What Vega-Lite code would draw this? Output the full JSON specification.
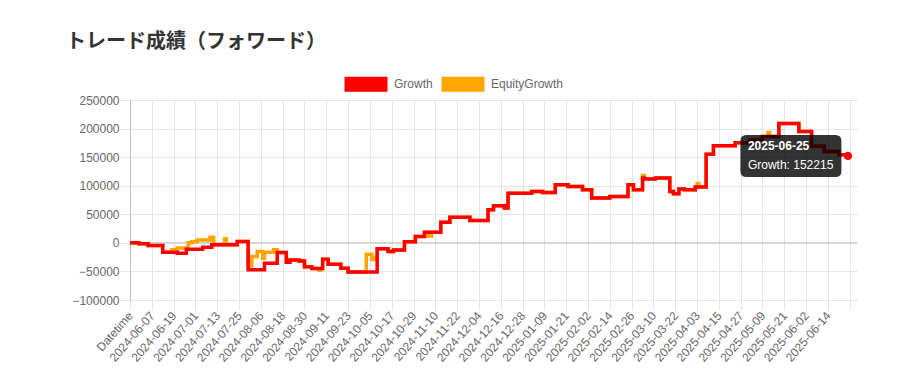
{
  "$schema": "https://vega.github.io/schema/vega-lite/v6.json",
  "width": 727,
  "height": 200,
  "autosize": "none",
  "padding": {"left": 130, "top": 100, "right": 43, "bottom": 76},
  "background": "white",
  "config": {
    "view": {"stroke": null},
    "font": "Liberation Sans",
    "axis": {
      "labelFont": "Liberation Sans",
      "labelFontSize": 12,
      "labelColor": "#666666",
      "gridColor": "#e6e6e6",
      "tickColor": "#e6e6e6",
      "tickSize": 10,
      "domainColor": "#e6e6e6"
    }
  },
  "title": {
    "text": "トレード成績（フォワード）",
    "anchor": "start",
    "frame": "group",
    "dx": -64,
    "offset": 6,
    "baseline": "alphabetic",
    "font": "Noto Sans CJK JP",
    "fontSize": 20,
    "fontWeight": "bold",
    "color": "#333333"
  },
  "datasets": {
    "series": [
      {"Datetime": "2024-05-26", "Growth": 0, "EquityGrowth": 0},
      {"Datetime": "2024-05-31", "Growth": -1500, "EquityGrowth": -1500},
      {"Datetime": "2024-06-05", "Growth": -4700, "EquityGrowth": -4700},
      {"Datetime": "2024-06-13", "Growth": -16300, "EquityGrowth": -16300},
      {"Datetime": "2024-06-18", "Growth": -16300, "EquityGrowth": -12000},
      {"Datetime": "2024-06-21", "Growth": -18000, "EquityGrowth": -9000},
      {"Datetime": "2024-06-26", "Growth": -11000, "EquityGrowth": -9000},
      {"Datetime": "2024-06-27", "Growth": -11000, "EquityGrowth": 0},
      {"Datetime": "2024-06-29", "Growth": -11000, "EquityGrowth": 2000},
      {"Datetime": "2024-07-02", "Growth": -11000, "EquityGrowth": 5000},
      {"Datetime": "2024-07-05", "Growth": -7500, "EquityGrowth": 5000},
      {"Datetime": "2024-07-09", "Growth": -7500, "EquityGrowth": 10000},
      {"Datetime": "2024-07-10", "Growth": -3500, "EquityGrowth": 10000},
      {"Datetime": "2024-07-11", "Growth": -3500, "EquityGrowth": -3500},
      {"Datetime": "2024-07-17", "Growth": -3500, "EquityGrowth": 7000},
      {"Datetime": "2024-07-18", "Growth": -3500, "EquityGrowth": -3500},
      {"Datetime": "2024-07-24", "Growth": 2300, "EquityGrowth": 2300},
      {"Datetime": "2024-07-30", "Growth": -47000, "EquityGrowth": -40000},
      {"Datetime": "2024-08-01", "Growth": -47000, "EquityGrowth": -24000},
      {"Datetime": "2024-08-04", "Growth": -47000, "EquityGrowth": -15000},
      {"Datetime": "2024-08-07", "Growth": -47000, "EquityGrowth": -27000},
      {"Datetime": "2024-08-08", "Growth": -35600, "EquityGrowth": -16300},
      {"Datetime": "2024-08-13", "Growth": -35600, "EquityGrowth": -12000},
      {"Datetime": "2024-08-15", "Growth": -17000, "EquityGrowth": -17000},
      {"Datetime": "2024-08-20", "Growth": -33800, "EquityGrowth": -33800},
      {"Datetime": "2024-08-22", "Growth": -29800, "EquityGrowth": -29800},
      {"Datetime": "2024-08-27", "Growth": -31600, "EquityGrowth": -31600},
      {"Datetime": "2024-08-30", "Growth": -42000, "EquityGrowth": -42000},
      {"Datetime": "2024-09-03", "Growth": -45000, "EquityGrowth": -45000},
      {"Datetime": "2024-09-07", "Growth": -45000, "EquityGrowth": -48000},
      {"Datetime": "2024-09-08", "Growth": -45000, "EquityGrowth": -45000},
      {"Datetime": "2024-09-09", "Growth": -28500, "EquityGrowth": -28500},
      {"Datetime": "2024-09-12", "Growth": -37500, "EquityGrowth": -37500},
      {"Datetime": "2024-09-19", "Growth": -44400, "EquityGrowth": -44400},
      {"Datetime": "2024-09-23", "Growth": -51000, "EquityGrowth": -51000},
      {"Datetime": "2024-10-03", "Growth": -51000, "EquityGrowth": -20000},
      {"Datetime": "2024-10-06", "Growth": -51000, "EquityGrowth": -29000},
      {"Datetime": "2024-10-08", "Growth": -51000, "EquityGrowth": -25000},
      {"Datetime": "2024-10-09", "Growth": -10500, "EquityGrowth": -10500},
      {"Datetime": "2024-10-15", "Growth": -15200, "EquityGrowth": -15200},
      {"Datetime": "2024-10-18", "Growth": -12300, "EquityGrowth": -12300},
      {"Datetime": "2024-10-24", "Growth": 2000, "EquityGrowth": 2000},
      {"Datetime": "2024-10-30", "Growth": 11000, "EquityGrowth": 11000},
      {"Datetime": "2024-11-04", "Growth": 18700, "EquityGrowth": 18700},
      {"Datetime": "2024-11-06", "Growth": 18700, "EquityGrowth": 12000},
      {"Datetime": "2024-11-08", "Growth": 18700, "EquityGrowth": 18700},
      {"Datetime": "2024-11-13", "Growth": 36000, "EquityGrowth": 36000},
      {"Datetime": "2024-11-18", "Growth": 45000, "EquityGrowth": 45000},
      {"Datetime": "2024-11-29", "Growth": 39000, "EquityGrowth": 39000},
      {"Datetime": "2024-12-09", "Growth": 58000, "EquityGrowth": 58000},
      {"Datetime": "2024-12-12", "Growth": 65000, "EquityGrowth": 65000},
      {"Datetime": "2024-12-18", "Growth": 61000, "EquityGrowth": 61000},
      {"Datetime": "2024-12-20", "Growth": 87000, "EquityGrowth": 87000},
      {"Datetime": "2025-01-02", "Growth": 90000, "EquityGrowth": 90000},
      {"Datetime": "2025-01-08", "Growth": 88000, "EquityGrowth": 88000},
      {"Datetime": "2025-01-15", "Growth": 101700, "EquityGrowth": 101700},
      {"Datetime": "2025-01-22", "Growth": 98700, "EquityGrowth": 98700},
      {"Datetime": "2025-01-30", "Growth": 93000, "EquityGrowth": 93000},
      {"Datetime": "2025-02-04", "Growth": 78400, "EquityGrowth": 78400},
      {"Datetime": "2025-02-14", "Growth": 81200, "EquityGrowth": 81200},
      {"Datetime": "2025-02-24", "Growth": 101700, "EquityGrowth": 101700},
      {"Datetime": "2025-02-27", "Growth": 93000, "EquityGrowth": 93000},
      {"Datetime": "2025-03-04", "Growth": 113500, "EquityGrowth": 118000},
      {"Datetime": "2025-03-05", "Growth": 111700, "EquityGrowth": 111700},
      {"Datetime": "2025-03-11", "Growth": 113500, "EquityGrowth": 113500},
      {"Datetime": "2025-03-19", "Growth": 90000, "EquityGrowth": 90000},
      {"Datetime": "2025-03-21", "Growth": 86000, "EquityGrowth": 86000},
      {"Datetime": "2025-03-24", "Growth": 94200, "EquityGrowth": 94200},
      {"Datetime": "2025-03-27", "Growth": 93000, "EquityGrowth": 93000},
      {"Datetime": "2025-04-02", "Growth": 97700, "EquityGrowth": 97700},
      {"Datetime": "2025-04-03", "Growth": 97700, "EquityGrowth": 104000},
      {"Datetime": "2025-04-04", "Growth": 97700, "EquityGrowth": 97700},
      {"Datetime": "2025-04-08", "Growth": 155000, "EquityGrowth": 155000},
      {"Datetime": "2025-04-12", "Growth": 170000, "EquityGrowth": 170000},
      {"Datetime": "2025-04-24", "Growth": 175000, "EquityGrowth": 175000},
      {"Datetime": "2025-05-02", "Growth": 180000, "EquityGrowth": 180000},
      {"Datetime": "2025-05-09", "Growth": 186000, "EquityGrowth": 186000},
      {"Datetime": "2025-05-12", "Growth": 186000, "EquityGrowth": 193000},
      {"Datetime": "2025-05-13", "Growth": 186000, "EquityGrowth": 186000},
      {"Datetime": "2025-05-18", "Growth": 208800, "EquityGrowth": 208800},
      {"Datetime": "2025-05-29", "Growth": 195000, "EquityGrowth": 195000},
      {"Datetime": "2025-06-05", "Growth": 169000, "EquityGrowth": 169000},
      {"Datetime": "2025-06-12", "Growth": 160000, "EquityGrowth": 160000},
      {"Datetime": "2025-06-20", "Growth": 154000, "EquityGrowth": 154000},
      {"Datetime": "2025-06-25", "Growth": 152215, "EquityGrowth": 152215}
    ],
    "tip": [
      {"Datetime": "2025-06-25", "Growth": 152215}
    ]
  },
  "layer": [
    {
      "data": {"values": [{}]},
      "mark": {"type": "rule", "color": "#bfbfbf", "strokeWidth": 1},
      "encoding": {
        "y": {"datum": 0, "type": "quantitative", "axis": {"title": null}}
      }
    },
    {
      "data": {"name": "series"},
      "mark": {"type": "line", "interpolate": "step-after", "strokeWidth": 3.5, "strokeJoin": "miter"},
      "encoding": {
        "x": {
          "field": "Datetime",
          "type": "temporal",
          "scale": {"type": "utc", "domain": [1716681600000, 1751241600000]},
          "axis": {
            "title": null,
            "tickCount": 100,
            "values": [1716681600000, 1717718400000, 1718755200000, 1719792000000, 1720828800000, 1721865600000, 1722902400000, 1723939200000, 1724976000000, 1726012800000, 1727049600000, 1728086400000, 1729123200000, 1730160000000, 1731196800000, 1732233600000, 1733270400000, 1734307200000, 1735344000000, 1736380800000, 1737417600000, 1738454400000, 1739491200000, 1740528000000, 1741564800000, 1742601600000, 1743638400000, 1744675200000, 1745712000000, 1746748800000, 1747785600000, 1748822400000, 1749859200000, 1750896000000],
            "labelExpr": "time(datum.value) < 1717000000000 ? 'Datetime' : (time(datum.value) > 1750000000000 ? '' : utcFormat(datum.value, '%Y-%m-%d'))",
            "labelAngle": -49,
            "labelAlign": "right",
            "labelBaseline": "middle",
            "labelPadding": 3,
            "labelOverlap": false,
            "labelBound": false,
            "labelFlush": false,
            "grid": true
          }
        },
        "y": {
          "field": "EquityGrowth",
          "type": "quantitative",
          "scale": {"domain": [-100000, 250000], "nice": false, "zero": false},
          "axis": {
            "title": null,
            "tickCount": 20,
            "values": [-100000, -50000, 0, 50000, 100000, 150000, 200000, 250000],
            "format": "d",
            "labelPadding": 1,
            "labelOverlap": false,
            "domainColor": "#bfbfbf",
            "grid": true
          }
        },
        "color": {
          "datum": "EquityGrowth",
          "scale": {"domain": ["Growth", "EquityGrowth"], "range": ["#ff0000", "#ffa500"]},
          "legend": {
            "orient": "none",
            "legendX": 226,
            "legendY": -26,
            "direction": "horizontal",
            "title": null,
            "padding": 0,
            "symbolType": "M-2.15,-0.75H2.15V0.75H-2.15Z",
            "symbolSize": 400,
            "symbolStrokeWidth": 0,
            "labelOffset": 18,
            "columnPadding": 8,
            "labelFont": "Liberation Sans",
            "labelFontSize": 12,
            "labelColor": "#666666",
            "encode": {
              "symbols": {
                "update": {
                  "fill": {"scale": "color", "field": "value"},
                  "fillOpacity": {"value": 1},
                  "opacity": {"value": 1}
                }
              }
            }
          }
        }
      }
    },
    {
      "data": {"name": "series"},
      "mark": {"type": "line", "interpolate": "step-after", "strokeWidth": 3.5, "strokeJoin": "miter"},
      "encoding": {
        "x": {"field": "Datetime", "type": "temporal", "axis": {"title": null}},
        "y": {"field": "Growth", "type": "quantitative", "axis": {"title": null}},
        "color": {"datum": "Growth"}
      }
    },
    {
      "data": {"name": "tip"},
      "mark": {"type": "point", "filled": true, "size": 70, "opacity": 1, "color": "#ff0000"},
      "encoding": {
        "x": {"field": "Datetime", "type": "temporal", "axis": {"title": null}},
        "y": {"field": "Growth", "type": "quantitative", "axis": {"title": null}}
      }
    },
    {
      "data": {"name": "tip"},
      "mark": {
        "type": "point",
        "filled": true,
        "size": 4,
        "opacity": 0.8,
        "color": "#000000",
        "strokeWidth": 0,
        "shape": "M-101.5,-21H-12.5Q-6.5,-21 -6.5,-15V15Q-6.5,21 -12.5,21H-101.5Q-107.5,21 -107.5,15V-15Q-107.5,-21 -101.5,-21Z"
      },
      "encoding": {
        "x": {"field": "Datetime", "type": "temporal", "axis": {"title": null}},
        "y": {"field": "Growth", "type": "quantitative", "axis": {"title": null}}
      }
    },
    {
      "data": {"name": "tip"},
      "mark": {"type": "text", "align": "left", "baseline": "alphabetic", "dx": -100, "dy": -6, "font": "Liberation Sans", "fontSize": 12, "fontWeight": "bold", "color": "#ffffff"},
      "encoding": {
        "x": {"field": "Datetime", "type": "temporal", "axis": {"title": null}},
        "y": {"field": "Growth", "type": "quantitative", "axis": {"title": null}},
        "text": {"field": "Datetime", "type": "temporal", "timeUnit": "utcyearmonthdate", "format": "%Y-%m-%d"}
      }
    },
    {
      "data": {"name": "tip"},
      "transform": [{"calculate": "'Growth: ' + datum.Growth", "as": "tipLabel"}],
      "mark": {"type": "text", "align": "left", "baseline": "alphabetic", "dx": -100, "dy": 13, "font": "Liberation Sans", "fontSize": 12, "color": "#ffffff"},
      "encoding": {
        "x": {"field": "Datetime", "type": "temporal", "axis": {"title": null}},
        "y": {"field": "Growth", "type": "quantitative", "axis": {"title": null}},
        "text": {"field": "tipLabel", "type": "nominal"}
      }
    }
  ]
}
